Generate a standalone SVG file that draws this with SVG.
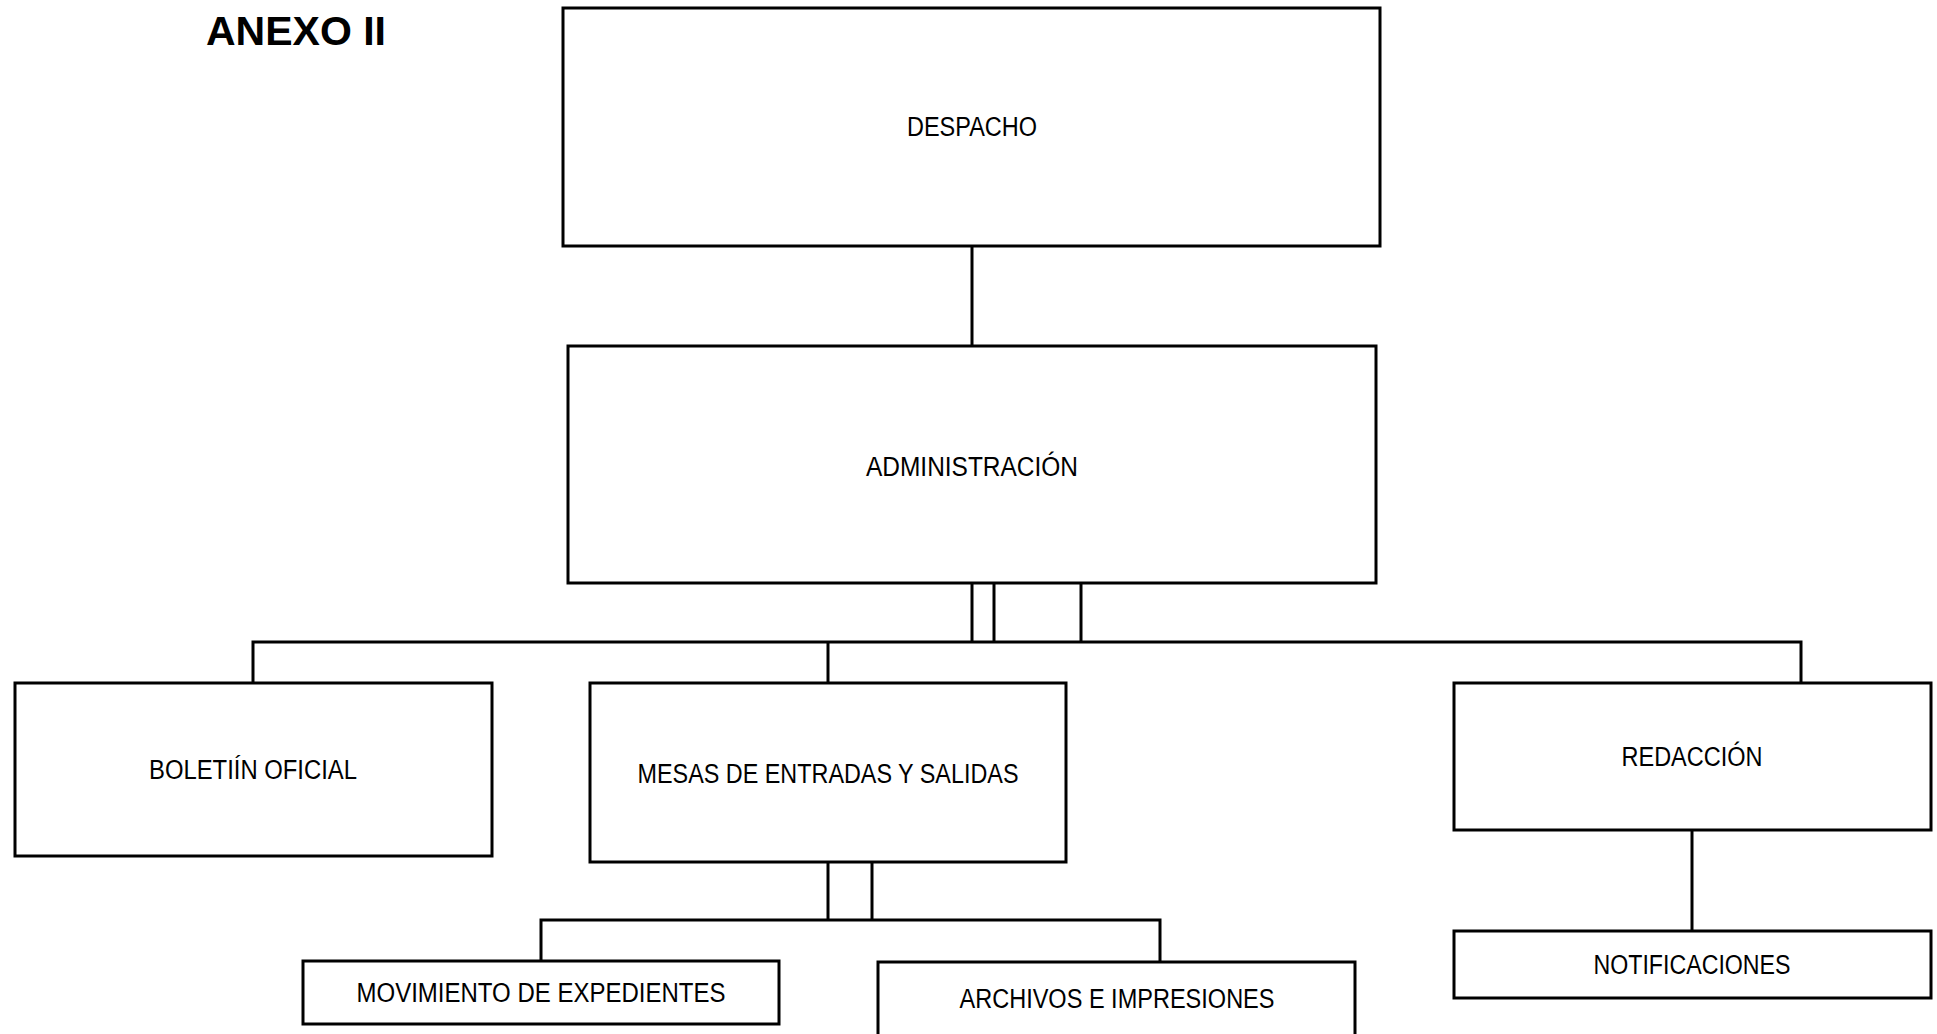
<svg xmlns="http://www.w3.org/2000/svg" width="1937" height="1034" viewBox="0 0 1937 1034">
<style>
.box{fill:#fff;stroke:#000;stroke-width:3}
.lbl{font-family:"Liberation Sans",Arial,sans-serif;font-size:27px;fill:#000;text-anchor:middle}
.title{font-family:"Liberation Sans",Arial,sans-serif;font-size:41px;font-weight:bold;fill:#000}
.con{fill:none;stroke:#000;stroke-width:3}
</style>
<rect width="1937" height="1034" fill="#fff"/>
<text class="title" x="206" y="45" textLength="180" lengthAdjust="spacingAndGlyphs">ANEXO II</text>
<g id="connectors">
<line class="con" x1="972" y1="246" x2="972" y2="346"/>
<line class="con" x1="972" y1="583" x2="972" y2="642"/>
<line class="con" x1="994" y1="583" x2="994" y2="642"/>
<line class="con" x1="1081" y1="583" x2="1081" y2="642"/>
<polyline class="con" points="253,683 253,642 1801,642 1801,683"/>
<line class="con" x1="828" y1="642" x2="828" y2="683"/>
<line class="con" x1="828" y1="862" x2="828" y2="920"/>
<line class="con" x1="872" y1="862" x2="872" y2="920"/>
<polyline class="con" points="541,961 541,920 1160,920 1160,962"/>
<line class="con" x1="1692" y1="830" x2="1692" y2="931"/>
</g>
<g id="despacho"><rect class="box" x="563" y="8" width="817" height="238"/><text class="lbl" x="972" y="136" textLength="130" lengthAdjust="spacingAndGlyphs">DESPACHO</text></g>
<g id="administracion"><rect class="box" x="568" y="346" width="808" height="237"/><text class="lbl" x="972" y="476" textLength="212" lengthAdjust="spacingAndGlyphs">ADMINISTRACIÓN</text></g>
<g id="boletin"><rect class="box" x="15" y="683" width="477" height="173"/><text class="lbl" x="253" y="779" textLength="208" lengthAdjust="spacingAndGlyphs">BOLETIÍN OFICIAL</text></g>
<g id="mesas"><rect class="box" x="590" y="683" width="476" height="179"/><text class="lbl" x="828" y="783" textLength="381" lengthAdjust="spacingAndGlyphs">MESAS DE ENTRADAS Y SALIDAS</text></g>
<g id="redaccion"><rect class="box" x="1454" y="683" width="477" height="147"/><text class="lbl" x="1692" y="766" textLength="141" lengthAdjust="spacingAndGlyphs">REDACCIÓN</text></g>
<g id="notificaciones"><rect class="box" x="1454" y="931" width="477" height="67"/><text class="lbl" x="1692" y="974" textLength="197" lengthAdjust="spacingAndGlyphs">NOTIFICACIONES</text></g>
<g id="movimiento"><rect class="box" x="303" y="961" width="476" height="63"/><text class="lbl" x="541" y="1002" textLength="369" lengthAdjust="spacingAndGlyphs">MOVIMIENTO DE EXPEDIENTES</text></g>
<g id="archivos"><rect class="box" x="878" y="962" width="477" height="80"/><text class="lbl" x="1117" y="1008" textLength="315" lengthAdjust="spacingAndGlyphs">ARCHIVOS E IMPRESIONES</text></g>
</svg>
